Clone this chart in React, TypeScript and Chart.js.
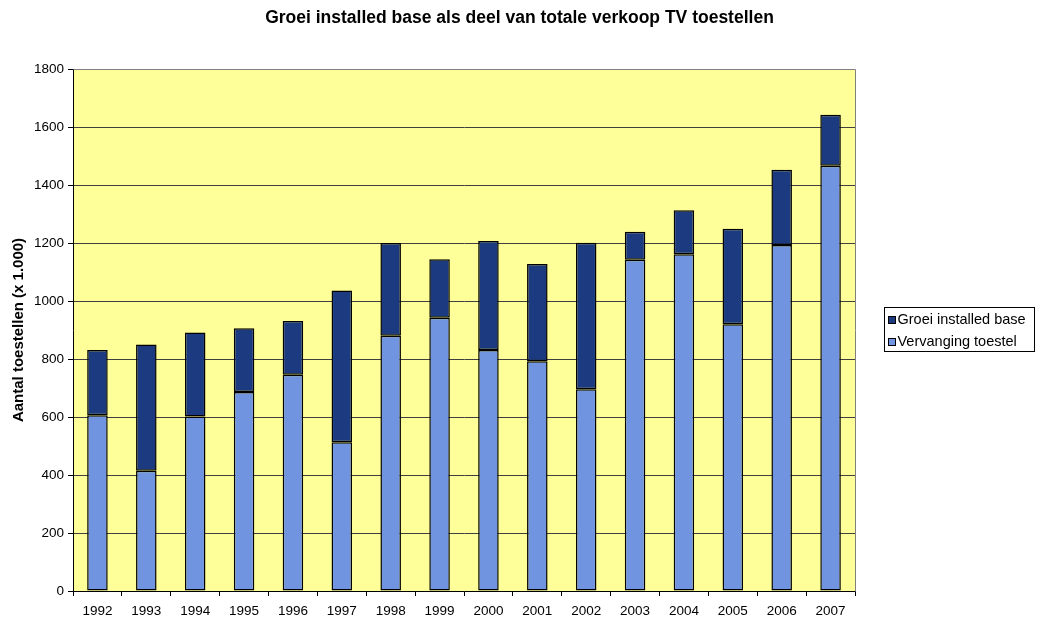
import React, { useEffect, useRef } from "react";
import { Chart, registerables } from "chart.js";

Chart.register(...registerables);

const years = ["1992", "1993", "1994", "1995", "1996", "1997", "1998", "1999", "2000", "2001", "2002", "2003", "2004", "2005", "2006", "2007"];
const vervanging = [606, 415, 602, 686, 746, 513, 880, 942, 831, 792, 696, 1142, 1161, 920, 1193, 1466];
const groei = [225, 435, 289, 220, 185, 523, 320, 202, 376, 336, 505, 97, 152, 329, 260, 176];
const yTicks = [0, 200, 400, 600, 800, 1000, 1200, 1400, 1600, 1800];

const FONT = "Arial, 'Liberation Sans', sans-serif";
const DARK = "#1B3A80";
const LIGHT = "#7094E0";
const PLOT_BG = "#FFFF99";

const plotBg = {
  id: "plotBg",
  beforeDraw(chart: any) {
    const { ctx, chartArea: a } = chart;
    ctx.save();
    ctx.fillStyle = PLOT_BG;
    ctx.fillRect(a.left, a.top, a.right - a.left, a.bottom - a.top);
    ctx.restore();
  },
  afterDraw(chart: any) {
    const { ctx, chartArea: a } = chart;
    ctx.save();
    ctx.strokeStyle = "#808080";
    ctx.lineWidth = 1;
    ctx.beginPath();
    ctx.moveTo(Math.round(a.left) + 0.5, Math.round(a.top) + 0.5);
    ctx.lineTo(Math.round(a.right) + 0.5, Math.round(a.top) + 0.5);
    ctx.lineTo(Math.round(a.right) + 0.5, Math.round(a.bottom) + 0.5);
    ctx.stroke();
    ctx.restore();
  },
};

const boxedLegend = {
  id: "boxedLegend",
  afterDraw(chart: any) {
    const { ctx, chartArea: a } = chart;
    const items = chart.data.datasets.map((d: any) => ({ label: d.label, color: d.backgroundColor })).reverse();
    const bx = Math.round(a.right) + 29.5;
    const bw = 150;
    const bh = 44;
    const by = Math.round((a.top + a.bottom) / 2 - bh / 2) - 0.5;
    ctx.save();
    ctx.fillStyle = "#ffffff";
    ctx.fillRect(bx, by, bw, bh);
    ctx.strokeStyle = "#000";
    ctx.lineWidth = 1;
    ctx.strokeRect(bx, by, bw, bh);
    ctx.font = `14.5px ${FONT}`;
    ctx.textBaseline = "middle";
    ctx.textAlign = "left";
    items.forEach((it: any, i: number) => {
      const cy = by + 12 + i * 22;
      ctx.fillStyle = it.color;
      ctx.fillRect(bx + 4, Math.round(cy - 4) + 0.5, 7, 7);
      ctx.strokeStyle = "#000";
      ctx.strokeRect(bx + 4, Math.round(cy - 4) + 0.5, 7, 7);
      ctx.fillStyle = "#000";
      ctx.fillText(it.label, bx + 13, cy);
    });
    ctx.restore();
  },
};

export default function App() {
  const ref = useRef<HTMLCanvasElement | null>(null);

  useEffect(() => {
    if (!ref.current) return;
    const chart = new Chart(ref.current, {
      type: "bar",
      data: {
        labels: years,
        datasets: [
          {
            label: "Vervanging toestel",
            data: vervanging,
            backgroundColor: LIGHT,
            borderColor: "#000",
            borderWidth: 1.5,
            borderSkipped: false,
            categoryPercentage: 1,
            barPercentage: 0.42,
          },
          {
            label: "Groei installed base",
            data: groei,
            backgroundColor: DARK,
            borderColor: "#000",
            borderWidth: 1.5,
            borderSkipped: false,
            categoryPercentage: 1,
            barPercentage: 0.42,
          },
        ],
      },
      options: {
        responsive: true,
        maintainAspectRatio: false,
        animation: false,
        layout: { padding: 0 },
        plugins: {
          legend: { display: false },
          tooltip: { enabled: false },
          title: {
            display: true,
            text: "Groei installed base als deel van totale verkoop TV toestellen",
            color: "#000",
            font: { family: FONT, size: 17.5, weight: "bold" },
            padding: { top: 8, bottom: 40 },
          },
        },
        scales: {
          x: {
            stacked: true,
            grid: { offset: true, drawOnChartArea: false, drawTicks: true, tickLength: 5, color: "#000" },
            border: { color: "#000" },
            ticks: { color: "#000", font: { family: FONT, size: 13.5 }, padding: 7, maxRotation: 0, autoSkip: false },
            afterFit: (s: any) => {
              s.height = 28;
            },
          },
          y: {
            stacked: true,
            min: 0,
            max: 1800,
            afterBuildTicks: (s: any) => {
              s.ticks = yTicks.map((v) => ({ value: v }));
            },
            ticks: {
              color: "#000",
              font: { family: FONT, size: 13.5 },
              padding: 4,
              callback: (v: any) => String(v),
            },
            grid: { color: "#404040", tickLength: 5, tickColor: "#000" },
            border: { color: "#000" },
            title: {
              display: true,
              text: "Aantal toestellen (x 1.000)",
              color: "#000",
              font: { family: FONT, size: 15, weight: "bold" },
              padding: { top: 10, bottom: 0 },
            },
            afterFit: (s: any) => {
              s.width = 73;
            },
          },
          yR: {
            position: "right",
            display: true,
            grid: { display: false, drawTicks: false },
            ticks: { display: false },
            border: { display: false },
            afterFit: (s: any) => {
              s.width = 184;
            },
          },
        },
      } as any,
      plugins: [plotBg, boxedLegend],
    });
    return () => chart.destroy();
  }, []);

  return (
    <div style={{ position: "absolute", left: 0, top: 0, width: 1039, height: 619, background: "#fff" }}>
      <canvas ref={ref} style={{ display: "block" }} />
    </div>
  );
}
